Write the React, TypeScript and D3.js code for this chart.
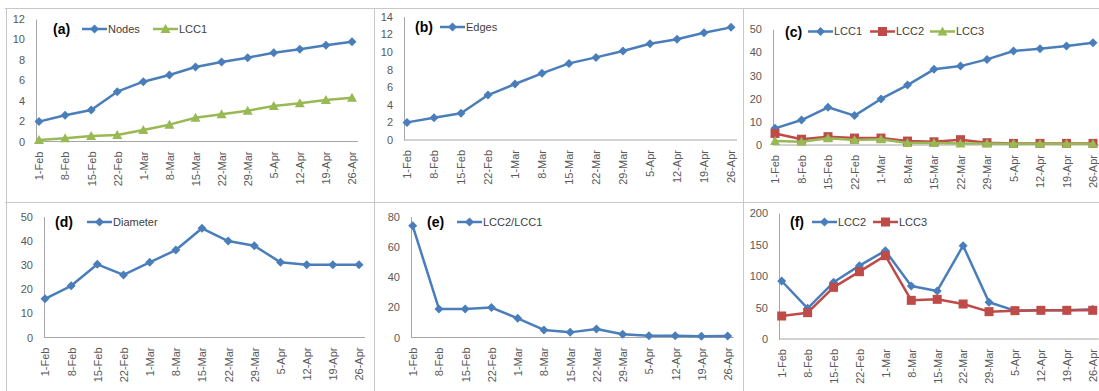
import { useEffect, useRef } from "react";
import * as d3 from "d3";

const W = 1099;
const H = 391;
const FONT = "'Liberation Sans', Arial, sans-serif";

const BLUE = "#4a7ebb";
const RED = "#be4b48";
const GREEN = "#98b954";
const AXIS = "#a6a6a6";
const TICK_TEXT = "#595959";
const FRAME = "#c8c8c8";

// ── data ──────────────────────────────────────────────────────────────────────
const DATES = ["1-Feb", "8-Feb", "15-Feb", "22-Feb", "1-Mar", "8-Mar", "15-Mar",
  "22-Mar", "29-Mar", "5-Apr", "12-Apr", "19-Apr", "26-Apr"];

const NODES = [1.95, 2.57, 3.08, 4.88, 5.86, 6.51, 7.3, 7.79, 8.21, 8.7, 9.03, 9.42, 9.77];
const LCC1_A = [0.15, 0.31, 0.54, 0.64, 1.13, 1.65, 2.33, 2.66, 3.02, 3.48, 3.74, 4.06, 4.29];
const EDGES = [2.0, 2.53, 3.03, 5.1, 6.36, 7.57, 8.7, 9.38, 10.1, 10.93, 11.43, 12.18, 12.79];
const LCC1_C = [7.2, 10.8, 16.3, 12.7, 19.9, 25.9, 32.7, 34.1, 37.0, 40.6, 41.6, 42.8, 44.2];
const LCC2_C = [5.0, 2.5, 3.6, 3.0, 3.0, 1.7, 1.4, 2.3, 1.0, 0.7, 0.7, 0.7, 0.7];
const LCC3_C = [1.7, 1.4, 2.9, 2.2, 2.5, 0.9, 0.9, 0.7, 0.6, 0.5, 0.5, 0.5, 0.5];
const DIAMETER = [16, 21.4, 30.3, 25.9, 31.1, 36.2, 45.2, 39.9, 38.0, 31.1, 30.1, 30.1, 30.1];
const RATIO = [74.0, 18.9, 18.9, 19.8, 12.7, 5.0, 3.4, 5.6, 2.1, 1.2, 1.2, 0.8, 1.0];
const LCC2_F = [92.3, 48.8, 90.2, 116.7, 140.5, 84.3, 76.4, 148.5, 58.4, 45.1, 45.6, 45.6, 47.2];
const LCC3_F = [36.6, 41.9, 82.2, 107.1, 132.6, 61.5, 63.1, 55.7, 43.5, 45.1, 45.6, 45.6, 45.6];

type Marker = "diamond" | "square" | "triangle";
interface Series { name: string; values: number[]; color: string; marker: Marker; legX: number }
interface Panel {
  tag: string; ax: number; x0: number; x1: number; y0: number; yTop: number;
  yMax: number; step: number; lx: number; ly: number; series: Series[];
}

const PANELS: Panel[] = [
  { tag: "(a)", ax: 36, x0: 39, x1: 352, y0: 141.5, yTop: 19, yMax: 12, step: 2, lx: 53, ly: 29,
    series: [
      { name: "Nodes", values: NODES, color: BLUE, marker: "diamond", legX: 82 },
      { name: "LCC1", values: LCC1_A, color: GREEN, marker: "triangle", legX: 153 },
    ] },
  { tag: "(b)", ax: 404, x0: 407, x1: 731, y0: 140, yTop: 16.7, yMax: 14, step: 2, lx: 415, ly: 27,
    series: [
      { name: "Edges", values: EDGES, color: BLUE, marker: "diamond", legX: 440 },
    ] },
  { tag: "(c)", ax: 773, x0: 775, x1: 1093, y0: 145, yTop: 29.3, yMax: 50, step: 10, lx: 785, ly: 31.5,
    series: [
      { name: "LCC1", values: LCC1_C, color: BLUE, marker: "diamond", legX: 808 },
      { name: "LCC2", values: LCC2_C, color: RED, marker: "square", legX: 870 },
      { name: "LCC3", values: LCC3_C, color: GREEN, marker: "triangle", legX: 930 },
    ] },
  { tag: "(d)", ax: 44, x0: 45, x1: 359, y0: 337.5, yTop: 216.7, yMax: 50, step: 10, lx: 55, ly: 222,
    series: [
      { name: "Diameter", values: DIAMETER, color: BLUE, marker: "diamond", legX: 87 },
    ] },
  { tag: "(e)", ax: 411, x0: 412.7, x1: 727.7, y0: 337.5, yTop: 216.7, yMax: 80, step: 20, lx: 427, ly: 222,
    series: [
      { name: "LCC2/LCC1", values: RATIO, color: BLUE, marker: "diamond", legX: 457 },
    ] },
  { tag: "(f)", ax: 779, x0: 781.7, x1: 1092.7, y0: 339, yTop: 213.3, yMax: 200, step: 50, lx: 790, ly: 222,
    series: [
      { name: "LCC2", values: LCC2_F, color: BLUE, marker: "diamond", legX: 812 },
      { name: "LCC3", values: LCC3_F, color: RED, marker: "square", legX: 873 },
    ] },
];

function markerPath(m: Marker): string {
  if (m === "diamond") return "M0,-4.5L4.5,0L0,4.5L-4.5,0Z";
  if (m === "square") return "M-4.5,-4.5H4.5V4.5H-4.5Z";
  return "M0,-5L5,4H-5Z";
}

export default function App() {
  const svgRef = useRef<SVGSVGElement>(null);

  useEffect(() => {
    const svg = d3.select(svgRef.current);
    svg.selectAll("*").remove();

    svg.append("rect").attr("width", W).attr("height", H).attr("fill", "#fff");

    // panel frame
    const frame = svg.append("g").attr("stroke", FRAME).attr("stroke-width", 1).attr("fill", "none");
    frame.append("line").attr("x1", 5).attr("x2", W).attr("y1", 8.5).attr("y2", 8.5);
    frame.append("line").attr("x1", 5).attr("x2", W).attr("y1", 202.5).attr("y2", 202.5);
    for (const x of [6.5, 374.5, 743.5]) {
      frame.append("line").attr("x1", x).attr("x2", x).attr("y1", 8).attr("y2", H);
    }

    for (const p of PANELS) {
      const g = svg.append("g");
      const xs = d3.scalePoint<string>().domain(DATES).range([p.x0, p.x1]);
      const ys = d3.scaleLinear().domain([0, p.yMax]).range([p.y0, p.yTop]);

      // y axis
      const ya = g.append("g").attr("transform", `translate(${p.ax},0)`)
        .call(d3.axisLeft(ys).tickValues(d3.range(0, p.yMax + p.step / 2, p.step))
          .tickSize(0).tickPadding(11).tickFormat(d3.format("d")));
      ya.select(".domain").attr("stroke", AXIS);
      ya.selectAll("text").attr("fill", TICK_TEXT).attr("font-size", 11).attr("font-family", FONT);

      // x axis
      g.append("line")
        .attr("x1", p.ax).attr("x2", p.x1 + 6)
        .attr("y1", p.y0).attr("y2", p.y0)
        .attr("stroke", AXIS);
      const xa = g.append("g").attr("transform", `translate(0,${p.y0})`)
        .call(d3.axisBottom(xs).tickSize(0));
      xa.select(".domain").remove();
      xa.selectAll("text")
        .attr("transform", "rotate(-90)")
        .attr("x", -10).attr("y", 0).attr("dy", "0.35em")
        .attr("text-anchor", "end")
        .attr("fill", TICK_TEXT).attr("font-size", 11).attr("font-family", FONT);

      // series
      for (const s of p.series) {
        const line = d3.line<number>().x((_, i) => xs(DATES[i])!).y(v => ys(v));
        g.append("path").datum(s.values)
          .attr("d", line).attr("fill", "none")
          .attr("stroke", s.color).attr("stroke-width", 2.5)
          .attr("stroke-linejoin", "round");
        g.selectAll(null).data(s.values).join("path")
          .attr("transform", (v, i) => `translate(${xs(DATES[i])},${ys(v)})`)
          .attr("d", markerPath(s.marker))
          .attr("fill", s.color);
      }

      // legend
      g.append("text").attr("x", p.lx).attr("y", p.ly).attr("dy", "0.36em")
        .attr("font-size", 14).attr("font-weight", "bold").attr("font-family", FONT)
        .attr("fill", "#000").text(p.tag);
      for (const s of p.series) {
        g.append("line").attr("x1", s.legX).attr("x2", s.legX + 25)
          .attr("y1", p.ly).attr("y2", p.ly)
          .attr("stroke", s.color).attr("stroke-width", 2.5);
        g.append("path").attr("transform", `translate(${s.legX + 12.5},${p.ly})`)
          .attr("d", markerPath(s.marker)).attr("fill", s.color);
        g.append("text").attr("x", s.legX + 26).attr("y", p.ly).attr("dy", "0.35em")
          .attr("font-size", 11).attr("font-family", FONT).attr("fill", "#404040")
          .text(s.name);
      }
    }
  }, []);

  return (
    <svg ref={svgRef} width={W} height={H}
      style={{ position: "absolute", left: 0, top: 0, display: "block" }} />
  );
}
